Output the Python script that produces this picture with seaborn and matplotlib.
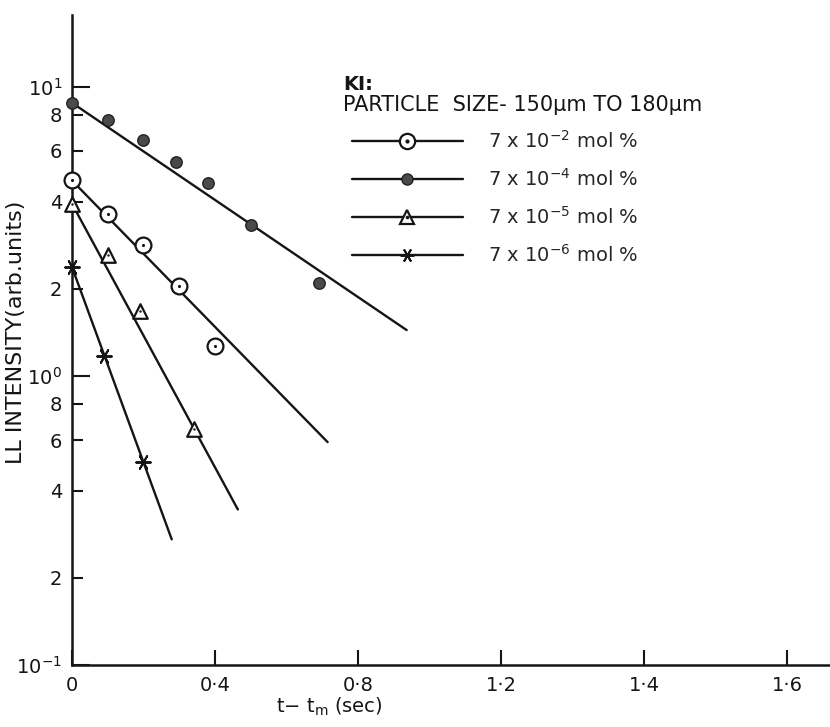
import matplotlib
matplotlib.use("Agg")
import matplotlib.pyplot as plt
from matplotlib.lines import Line2D
import pandas as pd
import seaborn as sns

# LL intensity (arb. units) against t - t_m (s) for KI, particle size 150-180 um
t_c2 = [0.0, 0.1, 0.2, 0.3, 0.4]
i_c2 = [4.74, 3.64, 2.84, 2.04, 1.27]
t_c4 = [0.0, 0.1, 0.2, 0.29, 0.38, 0.5, 0.69]
i_c4 = [8.8, 7.67, 6.54, 5.48, 4.63, 3.33, 2.09]
t_c5 = [0.0, 0.1, 0.19, 0.34]
i_c5 = [3.94, 2.62, 1.67, 0.653]
t_c6 = [0.0, 0.09, 0.2]
i_c6 = [2.38, 1.17, 0.503]

# straight-line fits on the semi-log scale, given as [start, end]
fit_t_c2 = [0.0, 0.715]
fit_i_c2 = [4.74, 0.59]
fit_t_c4 = [0.0, 0.936]
fit_i_c4 = [8.8, 1.44]
fit_t_c5 = [0.0, 0.464]
fit_i_c5 = [3.94, 0.345]
fit_t_c6 = [0.0, 0.279]
fit_i_c6 = [2.38, 0.272]

series_labels = [
    "7 x 10$^{-2}$ mol %",
    "7 x 10$^{-4}$ mol %",
    "7 x 10$^{-5}$ mol %",
    "7 x 10$^{-6}$ mol %",
]
x_tick_pos = [0.0, 0.4, 0.8, 1.2, 1.6, 2.0]
x_tick_labels = ["0", "0·4", "0·8", "1·2", "1·4", "1·6"]
y_major = [0.1, 1.0, 10.0]
y_major_labels = ["$10^{-1}$", "$10^{0}$", "$10^{1}$"]
y_minor = [0.2, 0.4, 0.6, 0.8, 2.0, 4.0, 6.0, 8.0]
y_minor_labels = ["2", "4", "6", "8", "2", "4", "6", "8"]

sns.set_theme(style="ticks")
plt.rcParams["font.family"] = ["DejaVu Sans"]
plt.rcParams["mathtext.default"] = "regular"

fig = plt.figure(figsize=(8.3, 7.27), dpi=100)
ax = fig.add_axes([0.0867, 0.0853, 0.9133, 0.894])

INK = "#151515"
LW = 1.7
STAR = (6, 2, 30)  # asterisk with a horizontal arm

fits = [(fit_t_c2, fit_i_c2), (fit_t_c4, fit_i_c4), (fit_t_c5, fit_i_c5), (fit_t_c6, fit_i_c6)]
for ft, fi in fits:
    sns.lineplot(x=ft, y=fi, ax=ax, color=INK, lw=LW, estimator=None, sort=False)

pts = {
    "c2": pd.DataFrame({"t": t_c2, "I": i_c2}),
    "c4": pd.DataFrame({"t": t_c4, "I": i_c4}),
    "c5": pd.DataFrame({"t": t_c5, "I": i_c5}),
    "c6": pd.DataFrame({"t": t_c6, "I": i_c6}),
}

# open circles with a centre dot
sns.scatterplot(data=pts["c2"], x="t", y="I", ax=ax, marker="o", s=130,
                facecolor="white", edgecolor=INK, linewidth=1.6, zorder=4, clip_on=False)
sns.scatterplot(data=pts["c2"], x="t", y="I", ax=ax, marker="o", s=5,
                color=INK, linewidth=0, zorder=5, clip_on=False)
# filled dots
sns.scatterplot(data=pts["c4"], x="t", y="I", ax=ax, marker="o", s=68,
                facecolor="#4a4a4a", edgecolor="#222222", linewidth=1.0, zorder=4,
                clip_on=False)
# open triangles
sns.scatterplot(data=pts["c5"], x="t", y="I", ax=ax, marker="^", s=110,
                facecolor="white", edgecolor=INK, linewidth=1.6, zorder=4, clip_on=False)
sns.scatterplot(data=pts["c5"], x="t", y="I", ax=ax, marker="o", s=3,
                color=INK, linewidth=0, zorder=5, clip_on=False)
# asterisks
sns.scatterplot(data=pts["c6"], x="t", y="I", ax=ax, marker=STAR, s=110,
                color=INK, edgecolor=INK, linewidth=1.4, zorder=4, clip_on=False)

ax.set_yscale("log")
ax.set_xlim(0, 2.12)
ax.set_ylim(0.1, 17.7)

ax.set_xticks(x_tick_pos, x_tick_labels)
ax.set_yticks(y_major, y_major_labels)
ax.set_yticks(y_minor, y_minor_labels, minor=True)
ax.tick_params(axis="x", direction="in", length=11, width=1.5, pad=8,
               labelsize=14, colors=INK)
ax.tick_params(axis="y", which="major", direction="in", length=13, width=1.5,
               pad=7, labelsize=14, colors=INK)
ax.tick_params(axis="y", which="minor", direction="in", length=8, width=1.5,
               pad=7, labelsize=14, colors=INK)

for side in ("top", "right"):
    ax.spines[side].set_visible(False)
for side in ("left", "bottom"):
    ax.spines[side].set_linewidth(1.8)
    ax.spines[side].set_color(INK)

ax.set_xlabel("t$-$ t$_{m}$ (sec)", fontsize=14, color=INK)
ax.xaxis.set_label_coords(0.34, -0.048)
ax.set_ylabel("LL INTENSITY(arb.units)", fontsize=16, color=INK)
ax.yaxis.set_label_coords(-0.061, 0.512)

ax.text(0.3575, 0.885, "KI:", transform=ax.transAxes, fontsize=14,
        fontweight="bold", color=INK, va="baseline")
ax.text(0.3575, 0.853, "PARTICLE  SIZE- 150μm TO 180μm", transform=ax.transAxes,
        fontsize=15, color=INK, va="baseline")

handles = [
    (Line2D([], [], color=INK, lw=LW, marker="o", ms=11, mfc="white", mec=INK, mew=1.6),
     Line2D([], [], ls="none", marker="o", ms=2, color=INK)),
    Line2D([], [], color=INK, lw=LW, marker="o", ms=8, mfc="#4a4a4a", mec="#222222"),
    (Line2D([], [], color=INK, lw=LW, marker="^", ms=10, mfc="white", mec=INK, mew=1.6),
     Line2D([], [], ls="none", marker="o", ms=1.6, color=INK)),
    Line2D([], [], color=INK, lw=LW, marker=STAR, ms=10, mec=INK, mew=1.4),
]
ax.legend(handles, series_labels, loc="upper left", bbox_to_anchor=(0.369, 0.824),
          frameon=False, fontsize=14, handlelength=5.7, handletextpad=1.3,
          labelspacing=0.84, borderpad=0, borderaxespad=0, numpoints=1)

fig.savefig("out.png", dpi=100, facecolor="white")
